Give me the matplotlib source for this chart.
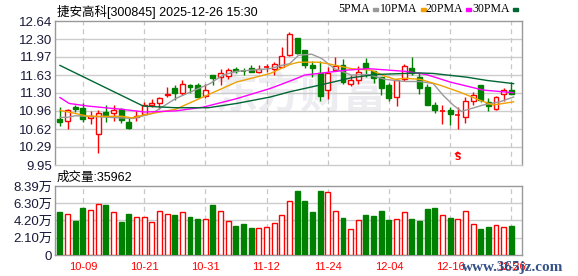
import numpy as np
import matplotlib
matplotlib.use("Agg")
import matplotlib.pyplot as plt
from matplotlib.patches import Rectangle

# daily candles 2025-09-26 .. 2025-12-26 (60 sessions)
opens = [10.81, 10.77, 11.03, 11.01, 10.83, 10.52, 10.94, 10.92, 10.99, 10.75,
         10.84, 10.91, 11.08, 11.11, 11.25, 11.38, 11.30, 11.44, 11.44, 11.24,
         11.64, 11.59, 11.61, 11.74, 11.72, 11.76, 11.69, 11.77, 11.75, 11.78,
         12.01, 12.32, 12.09, 11.81, 11.66, 11.36, 11.72, 11.81, 11.47, 11.53,
         11.86, 11.71, 11.59, 11.45, 11.22, 11.56, 11.76, 11.59, 11.41, 11.08,
         10.96, 10.97, 10.88, 10.85, 11.15, 11.44, 11.13, 10.99, 11.28, 11.35]
highs = [11.03, 11.00, 11.07, 11.10, 10.96, 10.97, 11.07, 11.08, 11.02, 10.83,
         10.95, 11.13, 11.18, 11.22, 11.41, 11.44, 11.53, 11.47, 11.48, 11.46,
         11.64, 11.75, 11.76, 11.78, 11.77, 11.81, 11.81, 11.83, 11.87, 12.15,
         12.43, 12.32, 12.09, 11.89, 11.89, 11.78, 11.97, 11.93, 11.63, 11.80,
         11.95, 11.71, 11.59, 11.49, 11.55, 11.83, 11.97, 11.67, 11.47, 11.13,
         11.07, 11.03, 11.03, 11.22, 11.31, 11.44, 11.20, 11.24, 11.39, 11.50]
lows = [10.67, 10.63, 10.94, 10.75, 10.72, 10.18, 10.75, 10.78, 10.74, 10.62,
        10.77, 10.89, 11.03, 10.99, 11.22, 11.16, 11.25, 11.30, 11.22, 11.20,
        11.44, 11.44, 11.55, 11.66, 11.63, 11.69, 11.66, 11.69, 11.64, 11.78,
        11.99, 12.02, 11.77, 11.59, 11.14, 11.18, 11.72, 11.46, 11.43, 11.47,
        11.59, 11.49, 11.26, 11.15, 11.06, 11.52, 11.63, 11.28, 11.07, 10.93,
        10.72, 10.70, 10.62, 10.74, 11.07, 11.12, 10.95, 10.97, 11.15, 11.28]
closes = [10.76, 10.97, 10.99, 10.80, 10.86, 10.93, 10.88, 10.98, 10.79, 10.64,
          10.86, 11.08, 11.11, 11.20, 11.28, 11.30, 11.46, 11.40, 11.22, 11.35,
          11.58, 11.67, 11.72, 11.71, 11.71, 11.69, 11.75, 11.78, 11.83, 11.99,
          12.40, 12.05, 11.81, 11.77, 11.24, 11.67, 11.80, 11.50, 11.53, 11.69,
          11.76, 11.58, 11.39, 11.21, 11.53, 11.80, 11.66, 11.39, 11.07, 10.98,
          10.97, 10.91, 10.89, 11.14, 11.25, 11.16, 11.05, 11.22, 11.36, 11.28]
# volume in 万 shares
volumes = [5.23, 4.99, 4.10, 5.71, 5.43, 6.20, 6.08, 5.19, 4.01, 4.99,
           4.58, 4.58, 4.01, 5.31, 4.99, 4.82, 5.19, 4.62, 4.38, 4.34,
           6.08, 5.31, 4.10, 3.48, 3.77, 3.28, 3.24, 3.36, 3.85, 4.82,
           6.53, 7.78, 6.57, 5.23, 7.78, 7.62, 5.31, 4.50, 3.12, 4.22,
           4.86, 4.74, 5.35, 4.26, 4.34, 5.19, 4.38, 4.14, 5.59, 5.71,
           4.82, 4.50, 4.38, 5.31, 3.77, 3.16, 3.40, 3.65, 3.40, 3.52]

# moving average lines (session index, price)
ma5_idx = [0, 1, 2, 5, 8, 9.6, 12, 15.1, 17, 19.6, 21.3, 23.1, 27.5, 29.2, 30, 31.2,
           32.9, 34.2, 35.9, 38.1, 40.3, 42.5, 45.1, 47.1, 48.8, 50.1, 51.4, 52.5, 55.3, 57.5, 59.3]
ma5_val = [10.84, 10.84, 10.87, 10.85, 10.83, 10.82, 10.91, 11.19, 11.31, 11.47, 11.63, 11.70, 11.75, 11.82, 11.84, 12.00,
           12.02, 11.94, 11.75, 11.63, 11.64, 11.55, 11.51, 11.51, 11.47, 11.25, 11.07, 10.95, 11.07, 11.13, 11.22]
ma10_idx = [0, 1.1, 3.7, 8.1, 9.4, 11.1, 15.1, 18.7, 23.1, 27.5, 30.1, 31.2, 33.8, 35.1,
            38.1, 40.7, 42.5, 43.8, 45.1, 47.1, 49.7, 52.3, 54.9, 56.6, 59.3]
ma10_val = [10.97, 10.94, 10.86, 10.86, 10.83, 10.89, 10.99, 11.22, 11.50, 11.66, 11.83, 11.87, 11.87, 11.84,
            11.75, 11.72, 11.61, 11.55, 11.57, 11.55, 11.44, 11.31, 11.16, 11.07, 11.13]
ma20_idx = [0, 1.2, 3.7, 8.1, 11.1, 15.1, 18.7, 23.1, 27.5, 30.1, 32, 33.8, 37.3, 40.3,
            45.1, 47.9, 51, 55.3, 59.3]
ma20_val = [11.21, 11.10, 11.05, 10.99, 10.94, 10.96, 11.03, 11.19, 11.38, 11.52, 11.63, 11.66, 11.72, 11.75,
            11.70, 11.64, 11.50, 11.35, 11.30]
ma30_idx = [0, 10.9, 15.1, 19.4, 23.1, 27.5, 30.1, 32, 35.1, 38.1, 41.2, 45.1, 47, 48.8,
            53.2, 55.8, 59.3]
ma30_val = [11.81, 11.05, 11.02, 11.02, 11.10, 11.22, 11.32, 11.38, 11.48, 11.58, 11.64, 11.66, 11.67, 11.66,
            11.59, 11.53, 11.47]

price_ticks = [9.95, 10.29, 10.62, 10.96, 11.30, 11.63, 11.97, 12.30, 12.64]
vol_ticks = [0, 2.10, 4.20, 6.30, 8.39]
vol_labels = ['0', '2.10万', '4.20万', '6.30万', '8.39万']
date_idx = [3, 11, 19, 27, 35, 43, 51, 59]
date_labels = ['10-09', '10-21', '10-31', '11-12', '11-24', '12-04', '12-16', '12-26']

RED = '#ff0000'
GREEN = '#008000'
CJK = ['Liberation Sans', 'Noto Sans CJK SC']

W, H = 578, 276
fig = plt.figure(figsize=(W / 100, H / 100), dpi=100)
ax1 = fig.add_axes([55 / W, (H - 165) / H, 467 / W, 144 / H])
ax2 = fig.add_axes([55 / W, (H - 255) / H, 467 / W, 69 / H])

x = np.arange(len(closes))
bw = 0.65

# watermark
ax1.text(31.5, 11.25, '东方财富', fontsize=31, fontweight='bold', color='#ececf1',
         ha='center', va='center', family='Noto Sans CJK SC', style='italic', zorder=0)

for i in x:
    o, h, l, c = opens[i], highs[i], lows[i], closes[i]
    up = c >= o
    col = RED if up else GREEN
    ax1.vlines(i, l, h, color=col, lw=1, zorder=3)
    lo, hi = min(o, c), max(o, c)
    if hi - lo < 0.012:
        ax1.hlines((o + c) / 2, i - bw / 2, i + bw / 2, color=col, lw=1.2, zorder=4)
    else:
        face = 'white' if up else GREEN
        ax1.add_patch(Rectangle((i - bw / 2, lo), bw, hi - lo, facecolor=face,
                                edgecolor=col, lw=1, zorder=4))

ax1.plot(ma5_idx, ma5_val, color='#999999', lw=1, zorder=5)
ax1.plot(ma10_idx, ma10_val, color='#f0a000', lw=1, zorder=5)
ax1.plot(ma20_idx, ma20_val, color='#ff00ff', lw=1, zorder=5)
ax1.plot(ma30_idx, ma30_val, color='#006633', lw=1, zorder=5)

# sell marker
ax1.text(52, 10.09, 'S', color=RED, fontsize=6.5, ha='center', va='center', fontweight='bold', zorder=6)
ax1.plot([51.7, 52, 52.3], [10.16, 10.19, 10.16], color=RED, lw=1, zorder=6)

for ax in (ax1, ax2):
    ax.set_xlim(-0.65, 60.4)
    ax.set_xticks(date_idx)
    ax.tick_params(length=0)
    for xi in date_idx:
        ax.axvline(xi, color='#c8c8c8', lw=0.9, ls=(0, (4, 3)), zorder=1)
    for s in ax.spines.values():
        s.set_color('#999999')
        s.set_linewidth(1)

ax1.set_ylim(9.95, 12.64)
ax1.set_yticks(price_ticks)
ax1.set_yticklabels([f'{v:.2f}' for v in price_ticks], fontsize=9.5,
                    family='Liberation Sans', color='#1a1a3a')
ax1.tick_params(axis='y', pad=2)
ax1.set_xticklabels([])
for v in price_ticks[1:-1]:
    ax1.axhline(v, color='#cccccc', lw=1, zorder=1)
ax1.spines['bottom'].set_color('#cccccc')

colors = [RED if closes[i] >= opens[i] else GREEN for i in x]
faces = ['white' if c == RED else GREEN for c in colors]
ax2.bar(x, volumes, width=bw, color=faces, edgecolor=colors, lw=1, zorder=3)
ax2.set_ylim(0, 8.39)
ax2.set_yticks(vol_ticks)
ax2.set_yticklabels(vol_labels, fontsize=9.5, family=CJK, color='#1a1a3a')
ax2.tick_params(axis='y', pad=2)
for v in vol_ticks[1:-1]:
    ax2.axhline(v, color='#cccccc', lw=1, zorder=1)
ax2.set_xticklabels(date_labels, fontsize=8, family='Liberation Sans', color=RED)
ax2.tick_params(axis='x', pad=5)

# header texts
fig.text(57 / W, 1 - 12 / H, '捷安高科[300845] 2025-12-26 15:30', fontsize=9,
         family=CJK, va='center', ha='left')
fig.text(57 / W, 1 - 178 / H, '成交量:35962', fontsize=9, family=CJK, va='center', ha='left')

legend = [('5PMA', '#999999', 338), ('10PMA', '#f0a000', 380),
          ('20PMA', '#ff00ff', 425), ('30PMA', '#006633', 472)]
for name, col, px in legend:
    t = fig.text(px / W, 1 - 9 / H, name, fontsize=8.5, family='Liberation Serif',
                 va='center', ha='left')
    fig.canvas.draw()
    bb = t.get_window_extent()
    fig.patches.append(Rectangle(((bb.x1 + 3) / W, (H - 11) / H), 5 / W, 3 / H,
                                 transform=fig.transFigure, color=col, figure=fig))

fig.text(513 / W, 1 - 268 / H, 'www.365jz.com', fontsize=11, family='Liberation Serif',
         fontweight='bold', color='#1e3f7a', ha='center', va='center', alpha=0.9)

fig.savefig('out.png', dpi=100)
